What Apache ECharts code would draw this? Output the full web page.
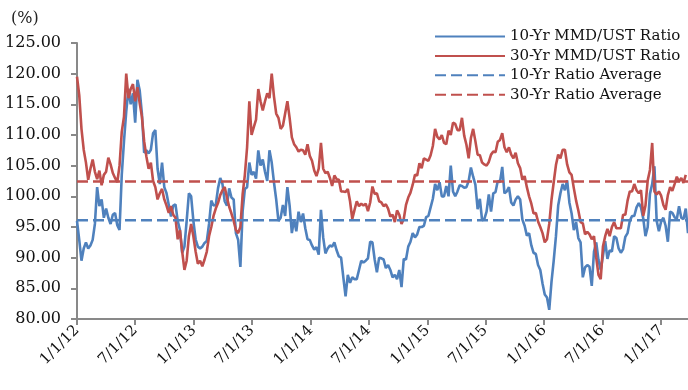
<!DOCTYPE html>
<html>
<head>
<meta charset="utf-8">
<script src="https://cdn.jsdelivr.net/npm/echarts@6/dist/echarts.min.js"></script>
<style>html,body{margin:0;padding:0;background:#fff}#c{width:688px;height:390px}</style>
</head>
<body>
<div id="c"></div>
<script>
// Daily category axis starting 1/1/12; series sampled weekly (every 7 days)
const START = Date.UTC(2012, 0, 1);
const NUM_DAYS = 1912;
const STEP_DAYS = 7;
const yTicks = [80, 85, 90, 95, 100, 105, 110, 115, 120, 125];
const seriesNames = ['10-Yr MMD/UST Ratio', '30-Yr MMD/UST Ratio', '10-Yr Ratio Average', '30-Yr Ratio Average'];
const avg10 = 96.1;
const avg30 = 102.4;

const ratio10 = [
96,92.9,89.5,91.5,92.5,91.5,92,92.9,95.5,101.5,98.4,99.5,96.5,98,96.5,95.5,97,97.3,95.3,94.5,
103.5,109,113.8,117.5,115,116.8,112,119,117.3,113.5,107.1,107.5,107,107.6,110.3,110.8,104.5,102,105.5,101.5,
100.5,98.6,96.7,98.5,98.7,96,
94.5,90.8,91.8,96,100.5,100,96,93,91.8,91.5,91.8,92.4,92.7,95.5,99.3,98.5,98.6,101.3,103,102,
99.2,98.5,101.3,99.8,99.5,94,92.9,88.5,97.5,101.2,101.5,105.5,103.5,104,102.9,107.5,105,106,104,102.5,
107.5,105.5,102.3,99.5,96,96.5,
98.6,96.8,101.5,98.5,94,96.2,94.3,97.5,95.8,97.2,94.8,93,92.9,92,91.3,91.7,90.5,97.8,93.3,90.7,
91.5,92,91.8,92.5,91.2,90.2,90,86.8,83.7,87.2,85.9,86.8,86.5,86.5,88,89.5,89.2,89.5,89.9,92.6,
92.5,89.7,87.6,90,89.9,
89.7,88.3,88.8,88,86.8,87.2,86.5,88,85.2,89.8,89.7,91.8,92.6,94,93.3,93.8,95,95,95.2,96.6,
96.8,98.2,99.6,102,101,102.3,100,100,101.7,100,105,100.8,100,100.8,101.8,101.7,101.4,101.5,102.5,104.7,
103.2,101.9,97.9,99.6,96.1,96.3,
97.5,100.3,97.5,100.5,100.7,102.5,102.3,104.8,100.5,100.8,101.5,99,98.5,99.5,100,99.5,96.2,95.2,93.6,94,
92,90.8,90.6,88.8,88,85.8,84,83.5,81.5,86,89.5,93.5,98.5,100.5,102,101,102.6,99,97.2,94.5,
95.8,93.2,92.5,86.8,88.4,88.8,
88.5,85.4,91,92.5,89.6,88,90.3,92.7,89.8,91.2,91,93.5,93.2,91.5,90.8,91.4,93.4,94,96,96.8,
96.8,98.2,98.9,98.2,96.4,93.5,95,100.4,102,104.9,96,94.3,95.9,96.5,95.2,92.6,97.5,97.3,96.6,96.3,
98.4,96.5,96.3,98,94
];

const ratio30 = [
119.5,116.5,111,107.6,105.5,102.7,104.5,106,104,102.8,104.2,101.8,103.5,104,106.3,105.2,103.8,103,102.3,105,
110.5,113,120,116,117.5,118.3,115.5,117.8,115.2,113,109,106.5,104.5,105.5,102.5,101.5,99.5,100.5,101.2,99.5,
98.5,97.3,98.4,97,96.5,93,
94.5,91,88,89.5,93.5,95.5,93.5,91,89,89.5,88.6,89.7,91,93.5,95,96.8,98,98.9,100.2,101,
101.5,99.8,98.3,97.2,96,94.5,94,95,100.3,103.5,108,115.5,110,111.3,112.5,117.5,115.5,114,115.5,116.8,
116,120,116.3,113.5,112.8,111,
111.5,113.5,115.5,112.8,109.6,108.5,108,107.3,107.6,107.5,106.8,108.5,106.6,105.8,104.2,103.3,104.5,108.7,104.5,103.8,
104,103,101.7,103.4,102.8,102.7,100.8,100.8,100.7,101.2,99.2,96.3,97.8,99.2,98.4,98.8,98.5,98.8,97.6,99,
101.6,100.4,100.5,99.2,99,
98.4,98.7,98,96.7,97,95.8,97.7,97,95.5,96.3,98.6,99.8,100.6,101.9,103.5,103.4,105.4,104.6,106.2,106,
105.8,106.7,108.2,111,109.7,109.3,110,108.7,108.5,110.7,110,112,111.8,110.8,110.8,112.8,109.9,108.4,106.2,109.5,
111,109,106.8,106.7,105.5,105.2,
105,105.6,106.8,107.3,107.2,108.9,109.2,110.3,108,107.2,108,106.8,106.2,107.1,105.4,104.6,102.7,103.3,101.5,100,
98.8,97.2,97.3,95.9,95,94,92.5,93,95.5,99.4,102.3,105.1,106.8,106.2,107.6,107.6,105.2,103.9,103.5,101.3,
99.3,97.7,95.8,95.6,93.8,
94.2,93.8,93,93.5,90,87.2,86.5,91.8,93.5,94.7,93.5,95,95.8,94.8,94.8,94.8,97,97,99.3,100.8,
100.8,102,101,100.5,101,96.8,98.5,102.6,104.3,108.7,100.8,100.3,100.8,100.1,98.6,97.8,100.2,101.5,100.9,102,
103.2,102.4,103,102.2,103.5
];

const categories = [];
for (let d = 0; d < NUM_DAYS; d++) {
  const dt = new Date(START + d * 86400000);
  categories.push((dt.getUTCMonth() + 1) + '/' + dt.getUTCDate() + '/' + String(dt.getUTCFullYear()).slice(2));
}
const isHalfYear = (idx, val) => /^(1|7)\/1\//.test(val);
const toPairs = arr => arr.map((v, i) => [i * STEP_DAYS, v]);
const flat = v => [[0, v], [NUM_DAYS - 1, v]];

const BLUE = '#4F81BD', RED = '#C0504D', AXIS = '#898989';
const FONT = 'DejaVu Serif';

const chart = echarts.init(document.getElementById('c'));
chart.setOption({
  animation: false,
  title: { text: '(%)', left: 6, top: 6, textStyle: { fontFamily: FONT, fontSize: 16, fontWeight: 'normal', color: '#222' } },
  legend: {
    orient: 'vertical', left: 429, top: 24, itemWidth: 70, itemHeight: 14, itemGap: 4.4,
    data: seriesNames,
    itemStyle: { opacity: 0, borderWidth: 0 },
    textStyle: { fontFamily: FONT, fontSize: 15, color: '#111' }
  },
  grid: { left: 77, right: 0, top: 43, bottom: 71, containLabel: false },
  xAxis: {
    type: 'category', data: categories, boundaryGap: false,
    axisLine: { lineStyle: { color: AXIS, width: 2 } },
    axisTick: { interval: isHalfYear, length: 6, lineStyle: { color: AXIS, width: 2 } },
    axisLabel: { interval: isHalfYear, rotate: 45, margin: 9, fontFamily: FONT, fontSize: 15, color: '#111' },
    splitLine: { show: false }
  },
  yAxis: {
    type: 'value', min: yTicks[0], max: yTicks[yTicks.length - 1], interval: 5,
    axisLine: { show: true, lineStyle: { color: AXIS, width: 2 } },
    axisTick: { show: true, length: 6, lineStyle: { color: AXIS, width: 2 } },
    axisLabel: { formatter: v => v.toFixed(2), margin: 16, fontFamily: FONT, fontSize: 16, color: '#111' },
    splitLine: { show: false }
  },
  series: [
    { name: seriesNames[0], type: 'line', data: toPairs(ratio10), symbol: 'none', lineStyle: { color: BLUE, width: 2.6 }, itemStyle: { color: BLUE } },
    { name: seriesNames[1], type: 'line', data: toPairs(ratio30), symbol: 'none', lineStyle: { color: RED, width: 2.6 }, itemStyle: { color: RED } },
    { name: seriesNames[2], type: 'line', data: flat(avg10), symbol: 'none', lineStyle: { color: BLUE, width: 2.5, type: [11, 5] }, itemStyle: { color: BLUE } },
    { name: seriesNames[3], type: 'line', data: flat(avg30), symbol: 'none', lineStyle: { color: RED, width: 2.5, type: [11, 5] }, itemStyle: { color: RED } }
  ]
});
</script>
</body>
</html>
